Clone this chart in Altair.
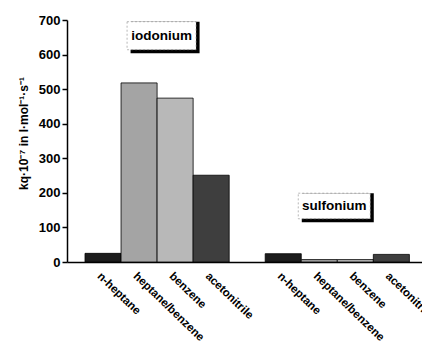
import altair as alt
import pandas as pd

groups = ["iodonium", "sulfonium"]
solvents = ["n-heptane", "heptane/benzene", "benzene", "acetonitrile"]
iodonium_values = [25, 518, 474, 251]
sulfonium_values = [24, 7, 7, 22]
solvent_colors = ["#1c1c1c", "#a4a4a4", "#b8b8b8", "#3e3e3e"]
y_ticks = [0, 100, 200, 300, 400, 500, 600, 700]

rows = []
for g, vals in zip(groups, [iodonium_values, sulfonium_values]):
    for s, v in zip(solvents, vals):
        rows.append({"key": f"{g}|{s}", "group": g, "solvent": s, "value": v})
df = pd.DataFrame(rows)

domain = [f"iodonium|{s}" for s in solvents] + ["gap"] + [f"sulfonium|{s}" for s in solvents]

xscale = alt.Scale(domain=domain, paddingInner=0, paddingOuter=0.425, align=0.588)
yscale = alt.Scale(domain=[0, 700])

font = "Liberation Sans"

x_axis = alt.Axis(
    title=None, ticks=False, labelAngle=44, labelAlign="left", labelBaseline="top",
    labelExpr="indexof(datum.label,'|')>=0 ? split(datum.label,'|')[1] : ''",
    labelFont=font, labelFontWeight="bold", labelFontSize=11.5, labelColor="black",
    labelPadding=8, domainColor="black", domainWidth=1.5, labelOverlap=False,
    labelBound=False, labelFlush=False,
)
y_axis = alt.Axis(
    title="kq·10⁻⁷ in l·mol⁻¹·s⁻¹", values=y_ticks, grid=False, tickSize=5,
    tickColor="black", domainColor="black", domainWidth=1.5, tickWidth=1.5,
    labelFont=font, labelFontWeight="bold", labelFontSize=13, labelColor="black",
    titleFont=font, titleFontWeight="bold", titleFontSize=12, titleColor="black",
    titlePadding=8, titleY=113, labelPadding=2, labelOverlap=False, labelFlush=False,
)

bars = alt.Chart(df).mark_bar(stroke="black", strokeWidth=0.8).encode(
    x=alt.X("key:N", scale=xscale, axis=x_axis, sort=domain),
    y=alt.Y("value:Q", scale=yscale, axis=y_axis),
    color=alt.Color("solvent:N", scale=alt.Scale(domain=solvents, range=solvent_colors), legend=None),
)

# annotation boxes: label, anchor category, box bottom/top and text level (data units)
ann_labels = ["iodonium", "sulfonium"]
ann_anchor = ["iodonium|heptane/benzene", "sulfonium|heptane/benzene"]
ann_low = [614, 125]
ann_high = [695, 199]
ann_mid = [655, 162]

layers = [bars]
offsets = [22.5, 15]
widths = [69, 72]
for i in range(2):
    adf = pd.DataFrame({"key": [ann_anchor[i]], "low": [ann_low[i]], "high": [ann_high[i]],
                        "mid": [ann_mid[i]], "label": [ann_labels[i]]})
    base = alt.Chart(adf)
    xenc = alt.X("key:N", scale=xscale, sort=domain, axis=x_axis)
    shadow = base.mark_bar(color="black", width=widths[i], xOffset=offsets[i] + 3.5, yOffset=3.5).encode(
        x=xenc, y=alt.Y("low:Q", scale=yscale, axis=y_axis), y2="high:Q")
    box = base.mark_bar(color="white", stroke="#888888", strokeWidth=0.6, strokeDash=[2, 2],
                        width=widths[i], xOffset=offsets[i]).encode(
        x=xenc, y=alt.Y("low:Q", scale=yscale, axis=y_axis), y2="high:Q")
    txt = base.mark_text(font=font, fontWeight="bold", fontSize=13.5, color="black",
                         dx=offsets[i]).encode(
        x=xenc, y=alt.Y("mid:Q", scale=yscale, axis=y_axis), text="label:N")
    layers += [shadow, box, txt]

chart = alt.layer(*layers).properties(
    width=355, height=242,
    padding={"left": 67, "top": 20, "right": 0, "bottom": 81},
    autosize=alt.AutoSizeParams(type="none"),
    background="white",
).configure_view(stroke=None)

chart.save("out.html", embed_options={"renderer": "svg", "actions": False})
